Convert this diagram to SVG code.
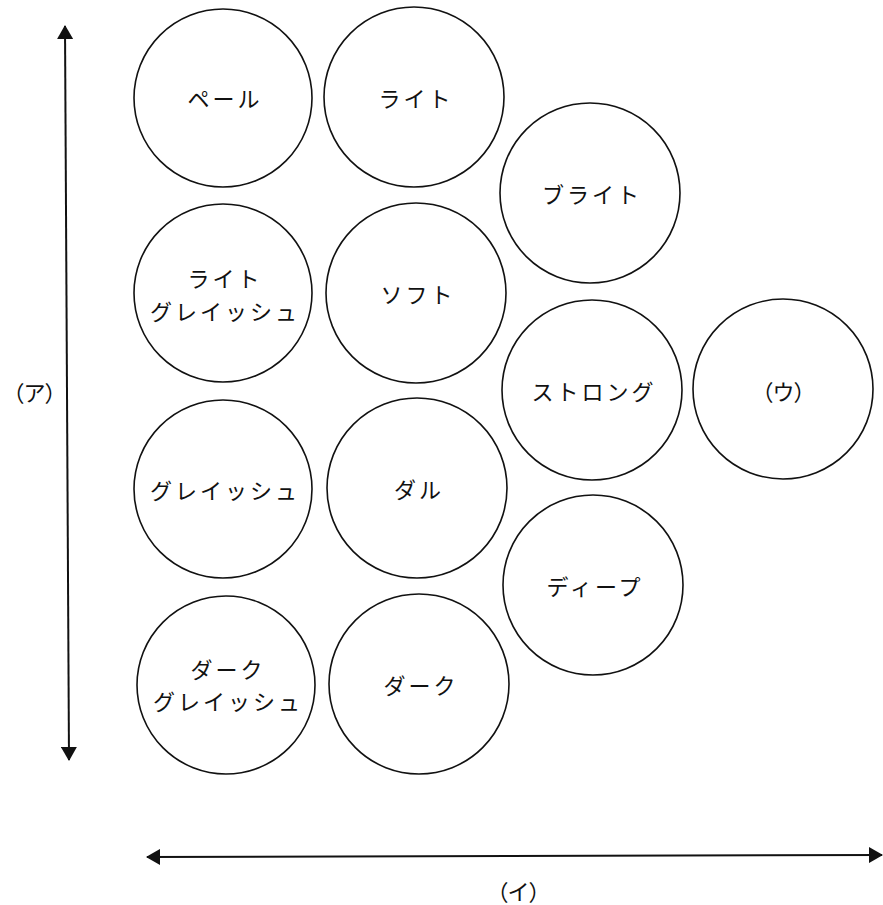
<svg xmlns="http://www.w3.org/2000/svg" width="883" height="905" viewBox="0 0 883 905">
<style>
.n circle{fill:#fff;stroke:#111;stroke-width:1.6}
text{font-family:"Noto Sans CJK JP","Noto Sans CJK SC",sans-serif;font-size:22px;fill:#111;text-anchor:middle;dominant-baseline:central;letter-spacing:3px}
text.p{letter-spacing:-1px}
.ax{stroke:#111;stroke-width:2;fill:none}
</style>
<defs>
<marker id="ah" viewBox="0 0 14 16" refX="13" refY="8" markerWidth="14" markerHeight="16" markerUnits="userSpaceOnUse" orient="auto-start-reverse">
<path d="M0,0 L14,8 L0,16 Z" fill="#111"/>
</marker>
</defs>
<rect width="883" height="905" fill="#fff"/>
<g id="connectors">
<line class="ax" x1="65" y1="26" x2="69" y2="760" marker-start="url(#ah)" marker-end="url(#ah)"/>
<line class="ax" x1="147" y1="857" x2="882" y2="855" marker-start="url(#ah)" marker-end="url(#ah)"/>
</g>
<g id="label-a"><text class="p" x="34" y="391">（ア）</text></g>
<g id="label-i"><text class="p" x="518" y="890">（イ）</text></g>
<g id="pale" class="n"><circle cx="223" cy="98" r="89"/><text x="225" y="97">ペール</text></g>
<g id="light" class="n"><circle cx="414" cy="97" r="90"/><text x="416" y="97">ライト</text></g>
<g id="bright" class="n"><circle cx="590" cy="193" r="90"/><text x="592" y="193">ブライト</text></g>
<g id="light-grayish" class="n"><circle cx="223" cy="293" r="89"/><text x="225" y="277">ライト</text><text x="225" y="310">グレイッシュ</text></g>
<g id="soft" class="n"><circle cx="416" cy="293" r="90"/><text x="418" y="293">ソフト</text></g>
<g id="strong" class="n"><circle cx="592" cy="390" r="90"/><text x="594" y="390">ストロング</text></g>
<g id="u" class="n"><circle cx="783" cy="389" r="90"/><text class="p" x="783" y="390">（ウ）</text></g>
<g id="grayish" class="n"><circle cx="223" cy="489" r="89"/><text x="225" y="489">グレイッシュ</text></g>
<g id="dull" class="n"><circle cx="417" cy="488" r="90"/><text x="419" y="488">ダル</text></g>
<g id="deep" class="n"><circle cx="593" cy="585" r="90"/><text x="595" y="585">ディープ</text></g>
<g id="dark-grayish" class="n"><circle cx="226" cy="685" r="89"/><text x="228" y="668">ダーク</text><text x="228" y="700">グレイッシュ</text></g>
<g id="dark" class="n"><circle cx="419" cy="684" r="90"/><text x="421" y="684">ダーク</text></g>
</svg>
